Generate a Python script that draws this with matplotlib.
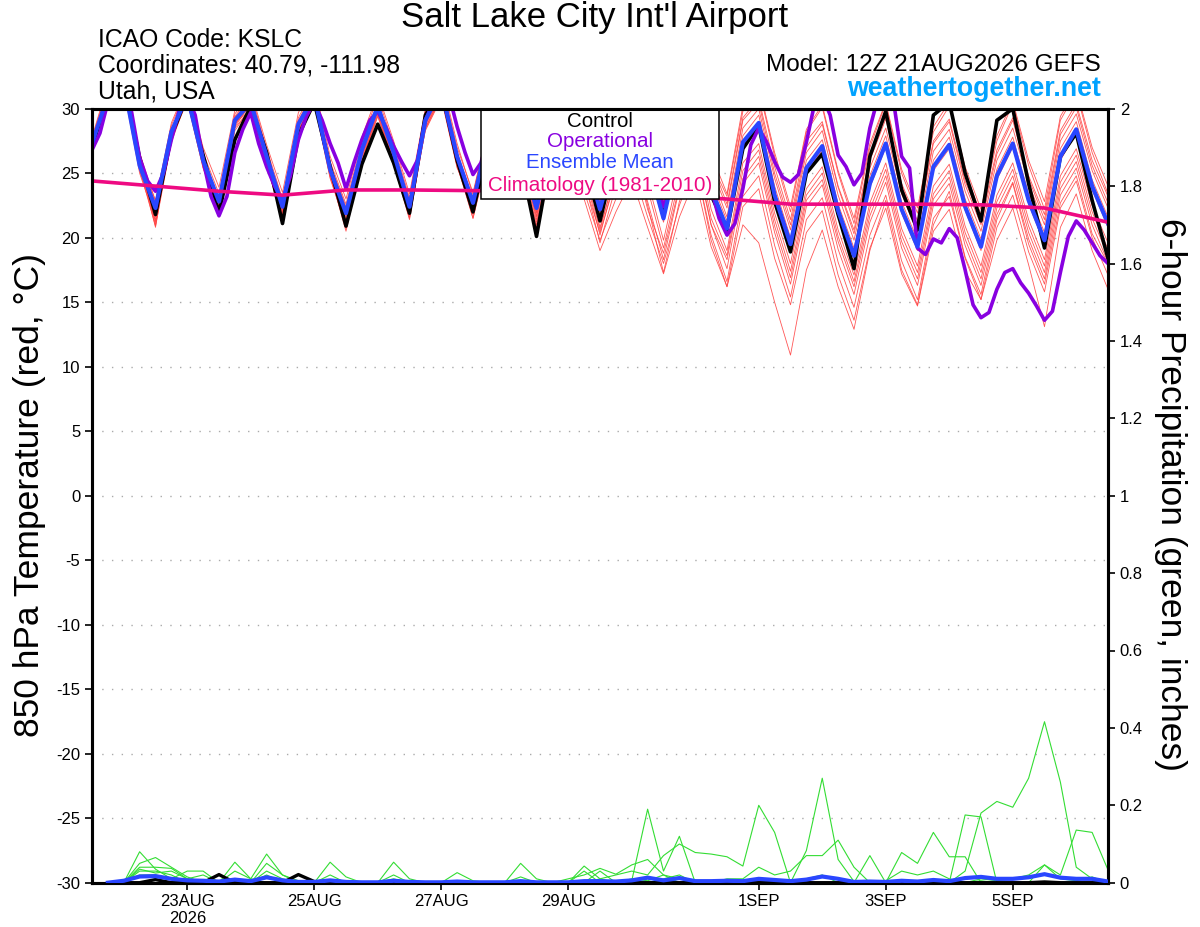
import numpy as np
import matplotlib
matplotlib.use("Agg")
import matplotlib.pyplot as plt
from matplotlib.patches import Rectangle
from matplotlib.ticker import FormatStrFormatter

plt.rcParams['font.family'] = ['Liberation Sans', 'DejaVu Sans']
plt.rcParams['axes.unicode_minus'] = False

# ---- data (hours after 12Z 21AUG2026) ----
# 6-hourly temperatures, one row per day: 12Z, 18Z, 00Z, 06Z ... plus final 12Z
t_mean = [27.3, 31.0, 32.0, 25.6,  22.3, 28.2, 31.0, 26.0,  22.8, 29.1, 30.5, 26.3,
          22.4, 28.8, 31.0, 25.3,  21.9, 26.8, 30.2, 26.6,  22.4, 29.1, 31.5, 26.3,
          22.7, 28.0, 30.8, 26.5,  22.3, 27.5, 30.5, 26.5,  22.2, 26.8, 30.0, 26.0,
          21.5, 27.0, 30.2, 23.8,  20.7, 27.4, 28.9, 23.3,  19.5, 25.4, 27.1, 22.1,
          18.6, 24.2, 27.3, 22.2,  19.3, 25.5, 27.2, 22.4,  19.3, 24.8, 27.3, 22.9,
          19.8, 26.3, 28.4, 24.0,  21.1]
t_control = [27.0, 31.0, 32.0, 26.2,  21.8, 27.9, 31.0, 26.4,  21.9, 27.6, 30.2, 26.6,
             21.1, 27.9, 30.5, 25.5,  20.9, 25.7, 28.8, 25.8,  21.9, 29.5, 31.5, 26.0,
             22.0, 27.5, 30.5, 26.0,  20.1, 27.0, 30.3, 26.0,  21.3, 26.5, 30.0, 26.5,
             21.8, 27.0, 30.5, 23.3,  20.6, 26.9, 28.7, 22.8,  18.9, 25.0, 26.5, 21.8,
             17.6, 26.3, 29.8, 23.7,  20.6, 29.5, 30.5, 25.0,  21.3, 29.1, 30.0, 24.2,
             19.2, 26.3, 28.1, 22.9,  18.4]
# operational run, 3-hourly
t_oper = [26.8, 28.1, 30.5, 31.5, 32.0, 29.7, 26.2, 24.4,
          23.6, 25.0, 27.6, 29.9, 31.0, 29.5, 26.0, 23.2,
          21.7, 23.2, 26.6, 28.4, 29.7, 27.3, 25.5, 24.0,
          22.9, 24.8, 27.6, 29.4, 30.5, 29.1, 27.3, 25.8,
          23.8, 25.8, 27.6, 29.1, 29.8, 28.6, 27.1, 25.9,
          24.8, 26.0, 29.1, 30.5, 31.5, 31.0, 28.6, 26.6,
          24.9, 25.8, 28.0, 29.5, 30.5, 30.0, 28.0, 26.0,
          24.0, 25.5, 27.8, 29.5, 30.3, 29.5, 27.5, 25.5,
          23.6, 25.0, 27.0, 28.5, 29.5, 28.8, 26.8, 24.5,
          22.4, 24.0, 26.5, 28.5, 30.0, 28.5, 23.8, 21.5,
          20.2, 21.1, 23.8, 27.2, 28.5, 27.4, 25.9, 24.7,
          24.3, 24.9, 27.4, 30.3, 31.0, 29.5, 26.4, 25.5,
          24.1, 25.0, 28.5, 30.8, 32.0, 30.5, 26.3, 25.4,
          19.2, 18.7, 19.9, 19.6, 20.7, 20.0, 17.5, 14.8,
          13.8, 14.2, 16.0, 17.3, 17.6, 16.5, 15.7, 14.7,
          13.6, 14.3, 17.3, 20.1, 21.3, 20.6, 19.6, 18.6,
          18.0]
# climatology, daily at 12Z
t_clim = [24.4, 24.0, 23.6, 23.3, 23.7, 23.7, 23.65, 23.6, 23.5, 23.3, 23.0,
          22.6, 22.6, 22.6, 22.55, 22.3, 21.2]

t_m01 = [27.6, 31.5, 32.4, 26.1,  22.9, 28.7, 31.6, 26.6,  23.4, 29.6, 31.2, 26.9,
         23.0, 29.3, 31.6, 25.9,  22.6, 27.5, 30.9, 27.2,  23.1, 29.8, 32.1, 27.0,
         23.5, 28.7, 31.5, 27.2,  23.1, 28.3, 31.3, 27.4,  23.0, 27.8, 31.0, 27.1,
         22.8, 28.3, 31.5, 25.4,  22.3, 29.1, 30.5, 25.0,  21.0, 27.0, 28.8, 23.9,
         20.3, 26.0, 29.2, 24.0,  21.0, 27.3, 29.0, 24.1,  21.0, 26.5, 29.1, 24.6,
         21.4, 28.0, 30.1, 25.6,  22.7]
t_m02 = [27.1, 30.8, 31.8, 25.2,  21.6, 27.8, 30.7, 25.6,  22.3, 28.8, 30.3, 26.0,
         21.8, 28.3, 30.6, 24.8,  21.3, 26.3, 29.8, 26.1,  21.8, 28.7, 31.1, 25.8,
         22.1, 27.6, 30.4, 26.0,  21.6, 27.2, 30.2, 26.2,  22.6, 27.6, 31.0, 27.2,
         23.2, 28.5, 31.8, 25.8,  23.2, 29.8, 31.6, 26.3,  22.0, 28.2, 30.1, 25.0,
         21.1, 27.0, 30.4, 25.0,  21.9, 28.2, 30.2, 25.1,  21.8, 27.5, 30.4, 25.6,
         22.2, 29.1, 31.3, 26.6,  23.4]
t_m03 = [27.4, 31.2, 32.1, 25.8,  22.0, 28.4, 31.3, 26.3,  22.5, 29.3, 30.8, 26.6,
         22.8, 29.0, 31.3, 25.6,  22.2, 27.1, 30.4, 26.8,  22.9, 29.4, 31.8, 26.6,
         23.0, 28.4, 31.0, 26.8,  22.6, 27.9, 30.8, 27.0,  22.7, 27.4, 30.6, 26.6,
         22.1, 27.6, 30.7, 24.4,  21.3, 27.9, 29.5, 24.0,  20.0, 26.0, 27.6, 22.6,
         19.2, 24.8, 27.9, 22.8,  19.8, 26.0, 27.8, 23.0,  19.9, 25.3, 27.8, 23.4,
         20.4, 26.9, 29.0, 24.5,  21.6]
t_m04 = [27.2, 30.9, 31.9, 25.4,  22.1, 28.0, 30.8, 25.8,  22.9, 29.0, 30.4, 26.1,
         22.1, 28.6, 30.9, 25.1,  21.6, 26.6, 30.1, 26.4,  22.3, 29.0, 31.4, 26.1,
         22.5, 27.8, 30.6, 26.3,  22.0, 27.3, 30.3, 26.2,  21.9, 26.5, 29.6, 25.6,
         21.2, 26.6, 29.8, 23.5,  20.4, 27.1, 28.6, 23.2,  19.2, 25.1, 26.8, 21.8,
         18.4, 23.9, 27.0, 21.9,  19.0, 25.2, 26.9, 22.1,  19.0, 24.5, 27.0, 22.6,
         19.5, 26.0, 28.1, 23.7,  20.8]
t_m05 = [27.0, 31.3, 32.2, 25.9,  22.6, 28.1, 31.2, 25.7,  22.2, 28.7, 30.9, 26.4,
         22.6, 28.5, 31.2, 25.0,  22.0, 26.9, 30.0, 26.2,  22.0, 28.8, 31.7, 26.5,
         22.4, 27.7, 30.6, 26.2,  22.5, 28.0, 31.2, 27.3,  23.5, 28.6, 31.8, 27.8,
         23.9, 29.4, 32.5, 26.5,  23.4, 30.2, 31.8, 26.6,  22.4, 28.4, 30.3, 25.2,
         21.5, 27.3, 30.5, 25.3,  22.3, 28.6, 30.5, 25.5,  22.2, 27.9, 30.6, 26.0,
         22.8, 29.4, 31.5, 27.0,  24.0]
t_m06 = [27.6, 31.0, 31.7, 25.5,  22.4, 28.5, 30.9, 26.2,  22.6, 29.2, 30.6, 26.0,
         22.2, 28.9, 30.7, 25.5,  21.8, 26.5, 30.0, 26.3,  22.6, 29.2, 31.2, 26.0,
         22.3, 27.6, 30.2, 26.1,  22.4, 27.8, 30.9, 26.8,  22.9, 28.3, 31.4, 27.3,
         23.0, 28.7, 31.9, 25.9,  22.6, 29.3, 30.8, 25.5,  21.4, 27.5, 29.0, 24.0,
         20.6, 26.3, 29.4, 24.2,  21.3, 27.5, 29.2, 24.4,  21.4, 26.8, 29.3, 24.8,
         21.8, 28.3, 30.4, 26.0,  23.2]
t_m07 = [27.3, 30.6, 31.5, 25.0,  21.4, 27.6, 30.6, 25.4,  22.0, 28.5, 30.0, 25.7,
         21.5, 28.1, 30.4, 24.6,  20.9, 26.0, 29.5, 25.8,  21.6, 28.4, 30.9, 25.5,
         21.9, 27.2, 30.1, 25.7,  21.4, 26.6, 29.6, 25.3,  20.6, 25.3, 28.4, 24.4,
         19.8, 25.3, 28.5, 22.2,  19.0, 25.8, 27.3, 21.9,  18.0, 23.8, 25.5, 20.6,
         17.1, 22.7, 25.8, 20.7,  17.8, 24.0, 25.7, 20.9,  17.8, 23.3, 25.8, 21.4,
         18.3, 24.8, 26.9, 22.5,  19.6]
t_m08 = [27.0, 30.7, 31.9, 25.3,  20.9, 27.4, 30.8, 25.9,  22.5, 29.0, 30.2, 25.9,
         21.9, 28.3, 30.8, 25.0,  21.2, 26.4, 29.9, 26.0,  22.1, 28.8, 31.2, 25.9,
         21.8, 27.4, 30.3, 25.8,  21.9, 26.9, 29.7, 25.1,  20.2, 24.9, 27.9, 23.8,
         19.2, 24.6, 27.8, 21.5,  18.6, 25.2, 26.8, 21.4,  17.4, 23.3, 25.0, 20.1,
         16.6, 22.2, 25.3, 20.2,  17.3, 23.4, 25.2, 20.4,  17.3, 22.8, 25.3, 20.9,
         17.8, 24.3, 26.4, 22.0,  19.1]
t_m09 = [27.5, 31.4, 32.0, 25.7,  20.8, 28.0, 30.6, 25.4,  22.1, 28.6, 30.4, 26.2,
         22.0, 28.0, 30.5, 24.7,  21.0, 26.2, 29.6, 25.9,  21.5, 28.5, 31.0, 25.6,
         21.5, 27.0, 30.0, 25.3,  21.2, 26.2, 29.0, 24.5,  19.6, 24.0, 26.8, 22.8,
         18.3, 23.8, 27.0, 21.0,  17.6, 24.2, 25.8, 20.4,  16.4, 22.4, 24.1, 19.1,
         15.6, 21.2, 24.3, 19.2,  16.3, 22.5, 24.2, 19.4,  16.3, 21.8, 24.3, 19.9,
         16.8, 23.3, 25.4, 21.0,  18.1]
t_m10 = [27.1, 31.1, 32.3, 26.0,  21.2, 27.7, 31.0, 26.1,  23.0, 28.9, 29.9, 25.8,
         21.6, 28.2, 31.1, 24.9,  20.5, 25.9, 29.8, 25.6,  22.2, 28.3, 30.8, 25.4,
         22.9, 27.1, 29.7, 25.0,  20.6, 25.5, 28.4, 23.6,  19.8, 23.0, 25.6, 21.6,
         18.0, 22.5, 25.8, 20.2,  16.6, 23.2, 24.8, 19.4,  15.4, 21.4, 23.1, 18.1,
         14.6, 20.2, 23.3, 18.2,  15.2, 21.5, 23.2, 18.4,  15.2, 20.8, 23.3, 18.9,
         15.8, 22.3, 24.4, 20.0,  17.1]
t_m11 = [27.6, 31.8, 32.6, 26.4,  22.5, 28.3, 31.3, 26.0,  22.7, 29.3, 30.6, 26.5,
         22.9, 29.1, 31.4, 25.7,  22.4, 27.0, 30.3, 26.5,  22.7, 29.2, 31.0, 25.9,
         21.5, 26.5, 29.6, 24.8,  20.8, 25.4, 28.0, 23.0,  19.0, 22.0, 24.5, 20.8,
         17.2, 21.6, 24.6, 19.3,  16.2, 22.4, 23.8, 18.4,  14.8, 20.4, 22.1, 17.1,
         13.6, 19.2, 22.3, 17.2,  14.7, 20.5, 22.2, 17.4,  15.2, 19.8, 22.3, 17.9,
         13.1, 20.8, 23.4, 19.0,  16.0]
t_m12 = [27.2, 31.6, 32.5, 25.9,  21.0, 28.2, 31.4, 26.3,  22.4, 29.4, 31.0, 26.7,
         21.7, 28.7, 31.2, 25.2,  21.4, 26.7, 30.5, 26.9,  22.8, 29.6, 31.6, 26.4,
         22.0, 27.8, 30.4, 26.0,  21.7, 27.1, 30.0, 25.9,  20.8, 25.0, 28.0, 22.5,
         17.3, 22.8, 25.9, 19.8,  16.2, 21.0, 19.6, 15.0,  10.9, 17.5, 20.6, 16.2,
         12.9, 19.0, 22.9, 17.5,  14.8, 21.0, 23.6, 18.5,  15.6, 21.4, 24.2, 19.5,
         16.4, 22.7, 24.8, 20.3,  18.0]
t_m13 = [27.8, 31.9, 32.7, 26.6,  22.8, 28.9, 31.8, 27.0,  23.9, 29.9, 31.4, 27.2,
         23.5, 29.7, 31.9, 26.3,  23.0, 27.8, 31.2, 27.5,  23.4, 30.0, 32.4, 27.3,
         23.3, 28.9, 31.8, 27.4,  23.0, 28.5, 31.5, 27.6,  22.9, 28.0, 31.2, 27.0,
         22.4, 28.1, 31.1, 25.0,  21.6, 28.5, 30.0, 24.6,  20.6, 26.6, 28.3, 23.3,
         19.8, 25.4, 28.5, 23.4,  20.4, 26.7, 28.4, 23.6,  20.5, 26.0, 28.5, 24.2,
         21.0, 27.5, 29.6, 25.2,  22.3]
t_m14 = [26.9, 30.9, 32.0, 25.5,  21.3, 27.9, 30.7, 25.6,  21.6, 28.3, 30.1, 25.6,
         21.4, 28.4, 30.6, 24.9,  20.7, 25.8, 29.4, 25.7,  21.4, 28.5, 31.1, 25.6,
         22.3, 27.3, 29.9, 25.3,  21.0, 26.3, 29.2, 24.3,  20.4, 24.5, 27.2, 22.2,
         18.8, 24.0, 26.4, 21.0,  18.3, 24.6, 26.3, 20.9,  16.9, 22.9, 24.5, 19.7,
         16.2, 21.7, 24.8, 19.7,  16.8, 23.0, 24.7, 19.9,  16.8, 22.3, 24.8, 20.4,
         17.3, 23.8, 25.9, 21.5,  18.6]
t_members = [t_m01, t_m02, t_m03, t_m04, t_m05, t_m06, t_m07,
             t_m08, t_m09, t_m10, t_m11, t_m12, t_m13, t_m14]

# 6-hour precipitation (inches), valid at hours 6..384
p_mean = [0, 0.005, 0.016, 0.017,  0.01, 0.006, 0.005, 0.003,  0.008, 0.004, 0.014, 0.006,
          0.002, 0.002, 0.006, 0.002,  0.001, 0.001, 0.005, 0.002,  0.001, 0.001, 0.003, 0.001,
          0.001, 0.001, 0.004, 0.001,  0.001, 0.001, 0.004, 0.004,  0.003, 0.006, 0.013, 0.006,
          0.012, 0.004, 0.004, 0.005,  0.004, 0.01, 0.007, 0.004,  0.008, 0.016, 0.01, 0.002,
          0.003, 0.002, 0.005, 0.003,  0.007, 0.004, 0.012, 0.015,  0.01, 0.01, 0.014, 0.022,
          0.013, 0.01, 0.01, 0.003]
p_control = [0, 0, 0, 0.008,  0, 0, 0, 0.021,  0, 0, 0, 0,  0.021, 0.003, 0, 0,
             0, 0, 0, 0,  0, 0, 0, 0,  0, 0, 0, 0,  0, 0, 0, 0,
             0, 0, 0, 0,  0, 0, 0, 0,  0, 0, 0, 0,  0, 0, 0, 0,
             0, 0, 0, 0,  0, 0, 0, 0,  0, 0, 0, 0.002,  0, 0, 0, 0]
p_m01 = [0, 0, 0.08, 0.035,  0.01, 0, 0, 0,  0.03, 0.01, 0.074, 0.02,  0, 0, 0, 0,
         0, 0, 0, 0,  0, 0, 0, 0,  0, 0, 0, 0,  0, 0.01, 0.02, 0.037,
         0.022, 0.046, 0.06, 0.02,  0, 0, 0, 0,  0, 0, 0, 0,  0, 0, 0, 0,
         0, 0, 0, 0,  0, 0, 0, 0.005,  0, 0, 0, 0,  0, 0, 0, 0]
p_m02 = [0, 0, 0.05, 0.065,  0.04, 0.015, 0, 0,  0, 0, 0.03, 0.01,  0, 0, 0, 0,
         0, 0, 0.053, 0.01,  0, 0, 0, 0,  0, 0, 0, 0,  0, 0, 0, 0,
         0, 0.005, 0.19, 0.03,  0.12, 0, 0, 0,  0, 0, 0, 0,  0.083, 0.27, 0.06, 0.003,
         0, 0, 0, 0,  0, 0, 0, 0,  0, 0, 0, 0.046,  0.02, 0.136, 0.13, 0.033]
p_m03 = [0, 0, 0.04, 0.04,  0.037, 0.01, 0, 0,  0, 0, 0.05, 0.02,  0.005, 0, 0, 0,
         0, 0, 0, 0,  0, 0, 0, 0,  0, 0, 0.05, 0.01,  0, 0, 0, 0.01,
         0.02, 0.03, 0.02, 0.07,  0.10, 0.078, 0.074, 0.067,  0.043, 0.20, 0.13, 0,  0, 0, 0, 0,
         0, 0, 0, 0,  0, 0, 0, 0,  0, 0, 0, 0,  0, 0, 0, 0]
p_m04 = [0, 0, 0.03, 0.03,  0.02, 0, 0, 0,  0, 0, 0, 0,  0, 0, 0.053, 0.015,
         0, 0, 0, 0,  0, 0, 0, 0,  0, 0, 0, 0,  0, 0, 0.03, 0,
         0, 0, 0, 0.01,  0.02, 0, 0, 0.01,  0.01, 0.04, 0.02, 0.03,  0.07, 0.07, 0.11, 0.04,
         0, 0, 0, 0,  0, 0, 0, 0,  0, 0, 0, 0,  0, 0, 0, 0]
p_m05 = [0, 0, 0.02, 0.02,  0.01, 0.03, 0.03, 0,  0, 0, 0, 0,  0, 0, 0, 0,
         0, 0, 0.02, 0,  0, 0, 0, 0,  0, 0, 0, 0,  0, 0, 0.043, 0.01,
         0, 0, 0, 0,  0, 0, 0, 0,  0, 0, 0, 0,  0, 0, 0, 0,
         0.07, 0, 0.078, 0.05,  0.13, 0.067, 0.067, 0,  0, 0, 0, 0,  0, 0, 0, 0]
p_m06 = [0, 0, 0, 0.01,  0, 0, 0, 0,  0.053, 0.01, 0, 0,  0, 0, 0, 0,
         0, 0, 0, 0,  0, 0, 0.026, 0.005,  0, 0, 0.015, 0,  0, 0, 0, 0,
         0, 0, 0, 0,  0, 0, 0, 0,  0, 0, 0, 0,  0, 0, 0, 0,
         0, 0, 0, 0,  0, 0, 0.175, 0.17,  0, 0, 0, 0,  0, 0, 0, 0]
p_m07 = [0, 0, 0, 0,  0, 0, 0, 0,  0, 0, 0, 0,  0, 0, 0, 0,
         0, 0, 0, 0,  0, 0, 0, 0,  0, 0, 0, 0,  0, 0, 0, 0.03,
         0, 0, 0, 0,  0, 0, 0, 0,  0, 0, 0, 0,  0, 0, 0, 0,
         0, 0, 0, 0,  0, 0, 0.03, 0.18,  0.21, 0.195, 0.27, 0.416,  0.26, 0.04, 0.01, 0.003]
p_m08 = [0, 0, 0.035, 0.025,  0.03, 0.01, 0.02, 0,  0.01, 0, 0.02, 0,  0, 0, 0.02, 0,
         0, 0, 0.01, 0,  0, 0, 0, 0,  0, 0, 0, 0,  0, 0, 0, 0,
         0, 0.01, 0.005, 0.02,  0.01, 0, 0, 0.005,  0.005, 0.01, 0.005, 0,  0.01, 0.02, 0, 0,
         0, 0.005, 0.03, 0.02,  0.03, 0.01, 0, 0.01,  0.005, 0.01, 0.02, 0.046,  0.01, 0.005, 0.015, 0]
p_members = [p_m01, p_m02, p_m03, p_m04, p_m05, p_m06, p_m07, p_m08]

hours6 = np.arange(len(t_mean)) * 6
hours3 = np.arange(len(t_oper)) * 3
hours_clim = np.arange(len(t_clim)) * 24
hours_p = (np.arange(len(p_mean)) + 1) * 6

tick_hours = [36, 84, 132, 180, 252, 300, 348]
tick_labels = ['23AUG\n2026', '25AUG', '27AUG', '29AUG', '1SEP', '3SEP', '5SEP']

RED = '#ff4444'
GREEN = '#33dd33'
BLUE = '#2a46ff'
PURPLE = '#8800e0'
MAGENTA = '#ee0a82'

fig = plt.figure(figsize=(12, 9.27), dpi=100)
ax = fig.add_axes([92 / 1200, 1 - 882.7 / 927, 1016 / 1200, 774 / 927])

for m in t_members:
    ax.plot(hours6, m, color=RED, lw=0.6, alpha=0.9, zorder=2)
ax.plot(hours6, t_control, color='black', lw=2.6, zorder=3)
ax.plot(hours3, t_oper, color=PURPLE, lw=2.6, zorder=4)
ax.plot(hours6, t_mean, color=BLUE, lw=3.0, zorder=5)
ax.plot(hours_clim, t_clim, color=MAGENTA, lw=2.6, zorder=6)

ax.set_xlim(0, 384)
ax.set_ylim(-30, 30)
ax.set_yticks(np.arange(-30, 31, 5))
for yv in np.arange(-25, 30, 5):
    ax.axhline(yv, color='#aaaaaa', lw=1.0, ls=(0, (1, 6)), zorder=1)
ax.set_xticks(tick_hours)
ax.set_xticklabels(tick_labels)
ax.tick_params(axis='both', direction='out', length=5, width=1.2, labelsize=12)
ax.tick_params(axis='x', pad=3)
for s in ax.spines.values():
    s.set_linewidth(2.2)

# precipitation axis
ax2 = ax.twinx()
for p in p_members:
    ax2.plot(hours_p, p, color=GREEN, lw=0.8, zorder=2)
ax2.plot(hours_p, p_control, color='black', lw=2.4, zorder=3)
ax2.plot(hours_p, p_mean, color=BLUE, lw=3.0, zorder=4)
ax2.set_ylim(0, 2)
ax2.set_yticks(np.arange(0, 2.01, 0.2))
ax2.yaxis.set_major_formatter(FormatStrFormatter('%g'))
ax2.tick_params(axis='y', direction='out', length=5, width=1.2, labelsize=12)
for s in ax2.spines.values():
    s.set_linewidth(2.2)

# legend box
ax.add_patch(Rectangle((0.383, 0.883), 0.234, 0.117, transform=ax.transAxes,
                       facecolor='white', edgecolor='black', lw=1.1, zorder=10))
leg = [('Control', 'black', 0.984), ('Operational', PURPLE, 0.957),
       ('Ensemble Mean', BLUE, 0.930), ('Climatology (1981-2010)', MAGENTA, 0.901)]
for txt, c, yy in leg:
    ax.text(0.5, yy, txt, color=c, transform=ax.transAxes, ha='center', va='center',
            fontsize=14.8, zorder=11)

# header texts
fig.text(595 / 1200, 1 - 18 / 927, "Salt Lake City Int'l Airport", ha='center', va='center', fontsize=25)
fig.text(98 / 1200, 1 - 40 / 927, 'ICAO Code: KSLC', ha='left', va='center', fontsize=17.8)
fig.text(98 / 1200, 1 - 66 / 927, 'Coordinates: 40.79, -111.98', ha='left', va='center', fontsize=17.8)
fig.text(98 / 1200, 1 - 92 / 927, 'Utah, USA', ha='left', va='center', fontsize=17.8)
fig.text(1101 / 1200, 1 - 65 / 927, 'Model: 12Z 21AUG2026 GEFS', ha='right', va='center', fontsize=17.5)
fig.text(1101 / 1200, 1 - 89 / 927, 'weathertogether.net', ha='right', va='center', fontsize=19.3,
         fontweight='bold', color='#00a2ff')
fig.text(30 / 1200, 1 - 495 / 927, '850 hPa Temperature (red, °C)', rotation=90,
         ha='center', va='center', fontsize=25.5)
fig.text(1170 / 1200, 1 - 495 / 927, '6-hour Precipitation (green, inches)', rotation=270,
         ha='center', va='center', fontsize=25.5)

fig.savefig('out.png', dpi=100)
